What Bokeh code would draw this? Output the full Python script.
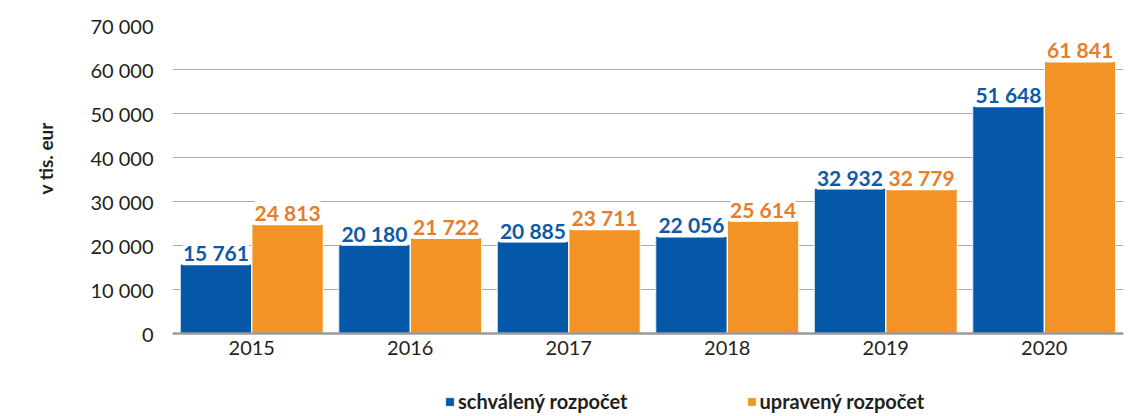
from bokeh.plotting import figure
from bokeh.models import (ColumnDataSource, FactorRange, Range1d, FixedTicker, LabelSet,
                          Legend, LegendItem, Span, Title)
from bokeh.transform import dodge
from bokeh.core.properties import value
from bokeh.embed import file_html
from bokeh.resources import INLINE

years = ["2015", "2016", "2017", "2018", "2019", "2020"]
schvaleny = [15761, 20180, 20885, 22056, 32932, 51648]
upraveny = [24813, 21722, 23711, 25614, 32779, 61841]
series_names = ["schválený rozpočet", "upravený rozpočet"]
y_ticks = [0, 10000, 20000, 30000, 40000, 50000, 60000, 70000]
y_tick_labels = ["0", "10 000", "20 000", "30 000", "40 000", "50 000", "60 000", "70 000"]
y_label = "v tis. eur"

BLUE = "#0558A8"
ORANGE = "#F39325"
BLUE_TXT = "#0E5AA7"
ORANGE_TXT = "#E57D2B"
FONT = "Lato"
TXT = "#231F20"

# layout (pixels)
W, H = 1142, 416
FRAME_TOP = 25          # where 70 000 sits
ZERO_Y = 333            # where 0 sits
Y_MAX = 70000
y_per_px = Y_MAX / (ZERO_Y - FRAME_TOP)
y_start = -(H - ZERO_Y) * y_per_px


def fmt(v):
    return f"{v:,}".replace(",", " ")


src = ColumnDataSource(dict(
    year=years,
    a=schvaleny,
    b=upraveny,
    zero=[0] * len(years),
    a_lbl=[fmt(v) for v in schvaleny],
    b_lbl=[fmt(v) for v in upraveny],
))

p = figure(width=W, height=H, x_range=FactorRange(factors=years),
           y_range=Range1d(y_start, Y_MAX), output_backend="svg", toolbar_location=None,
           min_border_left=171, min_border_right=19, min_border_top=FRAME_TOP,
           min_border_bottom=0)
p.outline_line_color = None
p.background_fill_color = "white"

p.xgrid.grid_line_color = None
p.ygrid.grid_line_color = "#A8A8A8"
p.ygrid.grid_line_width = 1.2

r1 = p.vbar(x=dodge("year", -0.226, range=p.x_range), top="a", width=0.45, source=src,
            fill_color=BLUE, line_color="#EAF1F8", line_width=1)
r2 = p.vbar(x=dodge("year", 0.226, range=p.x_range), top="b", width=0.45, source=src,
            fill_color=ORANGE, line_color="white", line_width=1)

# baseline
p.add_layout(Span(location=0, dimension="width", line_color="#9A9A9A", line_width=2.5))

for col, lbl, off, color in [("a", "a_lbl", -0.226, BLUE_TXT), ("b", "b_lbl", 0.226, ORANGE_TXT)]:
    ls = LabelSet(x=dodge("year", off, range=p.x_range), y=col, text=lbl, source=src,
                  text_align="center", text_baseline="bottom", y_offset=-1,
                  text_font=value(FONT), text_font_style="bold", text_font_size="21px",
                  text_color=color, background_fill_color="white")
    p.add_layout(ls)

# category labels
p.add_layout(LabelSet(x="year", y="zero", text="year", source=src, text_align="center",
                      text_baseline="top", y_offset=-7, text_font=value(FONT),
                      text_font_size="20px", text_color=TXT))
p.xaxis.visible = False

# y axis
p.yaxis.ticker = FixedTicker(ticks=y_ticks)
p.yaxis.major_label_overrides = {t: l for t, l in zip(y_ticks, y_tick_labels)}
p.yaxis.axis_line_color = None
p.yaxis.major_tick_line_color = None
p.yaxis.major_tick_out = 0
p.yaxis.major_tick_in = 0
p.yaxis.minor_tick_line_color = None
p.yaxis.major_label_standoff = 19
p.yaxis.major_label_text_font = FONT
p.yaxis.major_label_text_font_size = "20px"
p.yaxis.major_label_text_color = TXT

yt = Title(text=y_label, align="left", offset=H - 194, standoff=62)
yt.text_font = FONT
yt.text_font_style = "bold"
yt.text_font_size = "19px"
yt.text_color = TXT
p.add_layout(yt, "left")

lg = Legend(items=[LegendItem(label=series_names[0], renderers=[r1]),
                   LegendItem(label=series_names[1], renderers=[r2])],
            location=(272, 3), orientation="horizontal", padding=0, margin=0, spacing=118,
            border_line_color=None, background_fill_alpha=0, glyph_width=11, glyph_height=11,
            label_height=20, label_standoff=3, label_text_font=FONT,
            label_text_font_style="bold", label_text_font_size="20px", label_text_color=TXT)
p.add_layout(lg, "center")

open("out.html", "w").write(file_html(p, INLINE))
